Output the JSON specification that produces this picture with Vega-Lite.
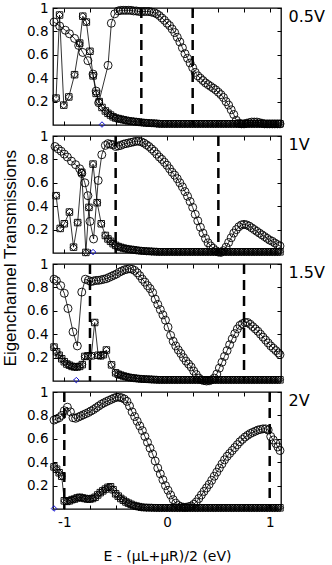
{
"$schema":"https://vega.github.io/schema/vega-lite/v6.json",
"padding":{"left":1,"top":0,"right":2,"bottom":2},
"background":"white",
"title":{"text":"Eigenchannel Transmissions","orient":"left","anchor":"middle","fontSize":17,"font":"Liberation Sans","fontWeight":"normal","color":"black","offset":6,"dx":24},
"spacing":11,
"bounds":"flush",
"config":{"view":{"stroke":"black","strokeWidth":1.3},
"axis":{"domain":false,"grid":false,"tickColor":"black","tickWidth":1,"tickSize":-4,"labelColor":"black","labelFont":"DejaVu Sans","labelFontSize":13.5,"titleFont":"DejaVu Sans","titleFontWeight":"normal","titleColor":"black","titleFontSize":14,"minExtent":0}},
"datasets":{
"bias":[{"p":1,"x":-0.25},{"p":1,"x":0.25},{"p":2,"x":-0.5},{"p":2,"x":0.5},{"p":3,"x":-0.75},{"p":3,"x":0.75},{"p":4,"x":-1},{"p":4,"x":1}],
"blue":[{"p":1,"x":-0.633,"y":0.004},{"p":2,"x":-0.72,"y":0.008},{"p":3,"x":-0.883,"y":0.008},{"p":4,"x":-1.1,"y":0.004}],
"p1a":[{"x":-1.1,"y":0.88},{"x":-1.045,"y":0.846},{"x":-0.99,"y":0.81},{"x":-0.95,"y":0.78},{"x":-0.9,"y":0.74},{"x":-0.86,"y":0.68},{"x":-0.82,"y":0.62},{"x":-0.77,"y":0.55},{"x":-0.72,"y":0.435},{"x":-0.69,"y":0.29},{"x":-0.665,"y":0.19},{"x":-0.574,"y":0.51},{"x":-0.542,"y":0.87},{"x":-0.509,"y":0.95},{"x":-0.475,"y":0.975},{"x":-0.45,"y":0.98},{"x":-0.425,"y":0.98},{"x":-0.4,"y":0.98},{"x":-0.375,"y":0.98},{"x":-0.35,"y":0.98},{"x":-0.325,"y":0.975},{"x":-0.3,"y":0.975},{"x":-0.275,"y":0.97},{"x":-0.25,"y":0.97},{"x":-0.225,"y":0.97},{"x":-0.2,"y":0.97},{"x":-0.175,"y":0.97},{"x":-0.15,"y":0.965},{"x":-0.125,"y":0.96},{"x":-0.1,"y":0.95},{"x":-0.075,"y":0.935},{"x":-0.05,"y":0.915},{"x":-0.025,"y":0.895},{"x":0,"y":0.87},{"x":0.025,"y":0.85},{"x":0.05,"y":0.82},{"x":0.075,"y":0.79},{"x":0.1,"y":0.75},{"x":0.125,"y":0.71},{"x":0.15,"y":0.66},{"x":0.175,"y":0.61},{"x":0.2,"y":0.57},{"x":0.225,"y":0.53},{"x":0.25,"y":0.49},{"x":0.275,"y":0.45},{"x":0.3,"y":0.42},{"x":0.325,"y":0.4},{"x":0.35,"y":0.38},{"x":0.375,"y":0.36},{"x":0.4,"y":0.345},{"x":0.425,"y":0.33},{"x":0.45,"y":0.315},{"x":0.475,"y":0.3},{"x":0.5,"y":0.28},{"x":0.525,"y":0.26},{"x":0.55,"y":0.235},{"x":0.575,"y":0.2},{"x":0.6,"y":0.17},{"x":0.625,"y":0.13},{"x":0.65,"y":0.09},{"x":0.675,"y":0.04},{"x":0.7,"y":0.015},{"x":0.725,"y":0.01},{"x":0.75,"y":0.01},{"x":0.775,"y":0.015},{"x":0.8,"y":0.02},{"x":0.825,"y":0.025},{"x":0.85,"y":0.025},{"x":0.875,"y":0.025},{"x":0.9,"y":0.02},{"x":0.925,"y":0.015},{"x":0.95,"y":0.01},{"x":0.975,"y":0.01},{"x":1,"y":0.01},{"x":1.025,"y":0.01},{"x":1.05,"y":0.01},{"x":1.075,"y":0.01},{"x":1.1,"y":0.01}],
"p1b":[{"x":-1.08,"y":0.23},{"x":-1.046,"y":0.94},{"x":-1.005,"y":0.17},{"x":-0.956,"y":0.24},{"x":-0.9,"y":0.43},{"x":-0.85,"y":0.7},{"x":-0.82,"y":0.93},{"x":-0.785,"y":0.88},{"x":-0.75,"y":0.63},{"x":-0.72,"y":0.42},{"x":-0.69,"y":0.27},{"x":-0.66,"y":0.2},{"x":-0.633,"y":0.15},{"x":-0.6,"y":0.12},{"x":-0.575,"y":0.1},{"x":-0.55,"y":0.085},{"x":-0.525,"y":0.07},{"x":-0.5,"y":0.06},{"x":-0.475,"y":0.055},{"x":-0.45,"y":0.05},{"x":-0.425,"y":0.045},{"x":-0.4,"y":0.04},{"x":-0.375,"y":0.035},{"x":-0.35,"y":0.033},{"x":-0.325,"y":0.03},{"x":-0.3,"y":0.028},{"x":-0.275,"y":0.025},{"x":-0.25,"y":0.022},{"x":-0.225,"y":0.02},{"x":-0.2,"y":0.018},{"x":-0.175,"y":0.016},{"x":-0.15,"y":0.015},{"x":-0.125,"y":0.014},{"x":-0.1,"y":0.013},{"x":-0.075,"y":0.01},{"x":-0.05,"y":0.01},{"x":-0.025,"y":0.01},{"x":0,"y":0.01},{"x":0.025,"y":0.01},{"x":0.05,"y":0.01},{"x":0.075,"y":0.01},{"x":0.1,"y":0.01},{"x":0.125,"y":0.01},{"x":0.15,"y":0.01},{"x":0.175,"y":0.01},{"x":0.2,"y":0.01},{"x":0.225,"y":0.01},{"x":0.25,"y":0.01},{"x":0.275,"y":0.01},{"x":0.3,"y":0.01},{"x":0.325,"y":0.01},{"x":0.35,"y":0.01},{"x":0.375,"y":0.01},{"x":0.4,"y":0.01},{"x":0.425,"y":0.01},{"x":0.45,"y":0.01},{"x":0.475,"y":0.01},{"x":0.5,"y":0.01},{"x":0.525,"y":0.01},{"x":0.55,"y":0.01},{"x":0.575,"y":0.01},{"x":0.6,"y":0.01},{"x":0.625,"y":0.01},{"x":0.65,"y":0.01},{"x":0.675,"y":0.01},{"x":0.7,"y":0.01},{"x":0.725,"y":0.01},{"x":0.75,"y":0.01},{"x":0.775,"y":0.01},{"x":0.8,"y":0.01},{"x":0.825,"y":0.01},{"x":0.85,"y":0.01},{"x":0.875,"y":0.01},{"x":0.9,"y":0.01},{"x":0.925,"y":0.01},{"x":0.95,"y":0.01},{"x":0.975,"y":0.01},{"x":1,"y":0.01},{"x":1.025,"y":0.01},{"x":1.05,"y":0.01},{"x":1.075,"y":0.01},{"x":1.1,"y":0.01}],
"p2a":[{"x":-1.09,"y":0.91},{"x":-1.06,"y":0.89},{"x":-1.03,"y":0.87},{"x":-1,"y":0.845},{"x":-0.97,"y":0.82},{"x":-0.93,"y":0.785},{"x":-0.89,"y":0.755},{"x":-0.85,"y":0.72},{"x":-0.83,"y":0.68},{"x":-0.8,"y":0.6},{"x":-0.77,"y":0.49},{"x":-0.75,"y":0.27},{"x":-0.715,"y":0.12},{"x":-0.67,"y":0.62},{"x":-0.635,"y":0.84},{"x":-0.6,"y":0.92},{"x":-0.575,"y":0.935},{"x":-0.55,"y":0.93},{"x":-0.525,"y":0.925},{"x":-0.5,"y":0.91},{"x":-0.475,"y":0.915},{"x":-0.45,"y":0.92},{"x":-0.425,"y":0.93},{"x":-0.4,"y":0.935},{"x":-0.375,"y":0.94},{"x":-0.35,"y":0.945},{"x":-0.325,"y":0.95},{"x":-0.3,"y":0.955},{"x":-0.275,"y":0.955},{"x":-0.25,"y":0.95},{"x":-0.225,"y":0.94},{"x":-0.2,"y":0.925},{"x":-0.175,"y":0.91},{"x":-0.15,"y":0.89},{"x":-0.125,"y":0.87},{"x":-0.1,"y":0.845},{"x":-0.075,"y":0.82},{"x":-0.05,"y":0.8},{"x":-0.025,"y":0.775},{"x":0,"y":0.75},{"x":0.025,"y":0.72},{"x":0.05,"y":0.69},{"x":0.075,"y":0.665},{"x":0.1,"y":0.635},{"x":0.125,"y":0.6},{"x":0.15,"y":0.565},{"x":0.175,"y":0.525},{"x":0.2,"y":0.485},{"x":0.225,"y":0.44},{"x":0.25,"y":0.39},{"x":0.275,"y":0.33},{"x":0.3,"y":0.275},{"x":0.325,"y":0.22},{"x":0.35,"y":0.17},{"x":0.375,"y":0.125},{"x":0.4,"y":0.087},{"x":0.425,"y":0.06},{"x":0.45,"y":0.04},{"x":0.475,"y":0.02},{"x":0.5,"y":0.008},{"x":0.525,"y":0.005},{"x":0.55,"y":0.02},{"x":0.575,"y":0.05},{"x":0.6,"y":0.09},{"x":0.625,"y":0.13},{"x":0.65,"y":0.17},{"x":0.675,"y":0.2},{"x":0.7,"y":0.225},{"x":0.725,"y":0.24},{"x":0.75,"y":0.245},{"x":0.775,"y":0.24},{"x":0.8,"y":0.23},{"x":0.825,"y":0.215},{"x":0.85,"y":0.2},{"x":0.875,"y":0.185},{"x":0.9,"y":0.17},{"x":0.925,"y":0.155},{"x":0.95,"y":0.14},{"x":0.975,"y":0.125},{"x":1,"y":0.11},{"x":1.025,"y":0.1},{"x":1.05,"y":0.085},{"x":1.075,"y":0.072},{"x":1.1,"y":0.06}],
"p2b":[{"x":-1.08,"y":0.49},{"x":-1.04,"y":0.21},{"x":-1,"y":0.25},{"x":-0.95,"y":0.35},{"x":-0.91,"y":0.05},{"x":-0.87,"y":0.26},{"x":-0.83,"y":0.69},{"x":-0.79,"y":0.005},{"x":-0.76,"y":0.39},{"x":-0.72,"y":0.76},{"x":-0.68,"y":0.43},{"x":-0.64,"y":0.25},{"x":-0.6,"y":0.15},{"x":-0.575,"y":0.12},{"x":-0.55,"y":0.1},{"x":-0.525,"y":0.08},{"x":-0.5,"y":0.065},{"x":-0.475,"y":0.055},{"x":-0.45,"y":0.048},{"x":-0.425,"y":0.042},{"x":-0.4,"y":0.037},{"x":-0.375,"y":0.033},{"x":-0.35,"y":0.03},{"x":-0.325,"y":0.027},{"x":-0.3,"y":0.024},{"x":-0.275,"y":0.021},{"x":-0.25,"y":0.019},{"x":-0.225,"y":0.017},{"x":-0.2,"y":0.015},{"x":-0.175,"y":0.014},{"x":-0.15,"y":0.013},{"x":-0.125,"y":0.012},{"x":-0.1,"y":0.011},{"x":-0.075,"y":0.01},{"x":-0.05,"y":0.01},{"x":-0.025,"y":0.01},{"x":0,"y":0.01},{"x":0.025,"y":0.01},{"x":0.05,"y":0.01},{"x":0.075,"y":0.01},{"x":0.1,"y":0.01},{"x":0.125,"y":0.01},{"x":0.15,"y":0.01},{"x":0.175,"y":0.01},{"x":0.2,"y":0.01},{"x":0.225,"y":0.01},{"x":0.25,"y":0.01},{"x":0.275,"y":0.01},{"x":0.3,"y":0.01},{"x":0.325,"y":0.01},{"x":0.35,"y":0.01},{"x":0.375,"y":0.01},{"x":0.4,"y":0.01},{"x":0.425,"y":0.01},{"x":0.45,"y":0.01},{"x":0.475,"y":0.01},{"x":0.5,"y":0.01},{"x":0.525,"y":0.01},{"x":0.55,"y":0.01},{"x":0.575,"y":0.01},{"x":0.6,"y":0.01},{"x":0.625,"y":0.01},{"x":0.65,"y":0.01},{"x":0.675,"y":0.01},{"x":0.7,"y":0.01},{"x":0.725,"y":0.01},{"x":0.75,"y":0.01},{"x":0.775,"y":0.01},{"x":0.8,"y":0.01},{"x":0.825,"y":0.01},{"x":0.85,"y":0.01},{"x":0.875,"y":0.01},{"x":0.9,"y":0.01},{"x":0.925,"y":0.01},{"x":0.95,"y":0.01},{"x":0.975,"y":0.01},{"x":1,"y":0.01},{"x":1.025,"y":0.01},{"x":1.05,"y":0.01},{"x":1.075,"y":0.01},{"x":1.1,"y":0.01}],
"p3a":[{"x":-1.1,"y":0.87},{"x":-1.077,"y":0.857},{"x":-1.035,"y":0.815},{"x":-1,"y":0.75},{"x":-0.964,"y":0.62},{"x":-0.915,"y":0.42},{"x":-0.873,"y":0.3},{"x":-0.83,"y":0.76},{"x":-0.795,"y":0.87},{"x":-0.765,"y":0.86},{"x":-0.74,"y":0.85},{"x":-0.715,"y":0.855},{"x":-0.69,"y":0.86},{"x":-0.665,"y":0.86},{"x":-0.64,"y":0.865},{"x":-0.615,"y":0.87},{"x":-0.59,"y":0.875},{"x":-0.565,"y":0.885},{"x":-0.54,"y":0.895},{"x":-0.515,"y":0.905},{"x":-0.49,"y":0.915},{"x":-0.465,"y":0.93},{"x":-0.44,"y":0.94},{"x":-0.415,"y":0.95},{"x":-0.39,"y":0.955},{"x":-0.365,"y":0.96},{"x":-0.34,"y":0.955},{"x":-0.315,"y":0.945},{"x":-0.29,"y":0.925},{"x":-0.265,"y":0.9},{"x":-0.24,"y":0.87},{"x":-0.215,"y":0.845},{"x":-0.19,"y":0.815},{"x":-0.165,"y":0.79},{"x":-0.14,"y":0.755},{"x":-0.115,"y":0.7},{"x":-0.09,"y":0.655},{"x":-0.065,"y":0.61},{"x":-0.04,"y":0.565},{"x":-0.015,"y":0.52},{"x":0.01,"y":0.46},{"x":0.035,"y":0.39},{"x":0.06,"y":0.34},{"x":0.085,"y":0.3},{"x":0.11,"y":0.265},{"x":0.135,"y":0.235},{"x":0.16,"y":0.2},{"x":0.185,"y":0.17},{"x":0.21,"y":0.145},{"x":0.235,"y":0.12},{"x":0.26,"y":0.085},{"x":0.285,"y":0.055},{"x":0.31,"y":0.025},{"x":0.335,"y":0.01},{"x":0.36,"y":0.003},{"x":0.385,"y":0},{"x":0.41,"y":0.002},{"x":0.435,"y":0.01},{"x":0.46,"y":0.025},{"x":0.485,"y":0.06},{"x":0.51,"y":0.11},{"x":0.535,"y":0.16},{"x":0.56,"y":0.21},{"x":0.585,"y":0.26},{"x":0.61,"y":0.31},{"x":0.635,"y":0.36},{"x":0.66,"y":0.405},{"x":0.685,"y":0.445},{"x":0.71,"y":0.475},{"x":0.735,"y":0.49},{"x":0.76,"y":0.5},{"x":0.785,"y":0.5},{"x":0.81,"y":0.485},{"x":0.835,"y":0.465},{"x":0.86,"y":0.445},{"x":0.885,"y":0.425},{"x":0.91,"y":0.4},{"x":0.935,"y":0.375},{"x":0.96,"y":0.35},{"x":0.985,"y":0.325},{"x":1.01,"y":0.3},{"x":1.035,"y":0.28},{"x":1.06,"y":0.26},{"x":1.085,"y":0.24},{"x":1.1,"y":0.225}],
"p3b":[{"x":-1.1,"y":0.29},{"x":-1.075,"y":0.25},{"x":-1.05,"y":0.22},{"x":-1.025,"y":0.19},{"x":-1,"y":0.165},{"x":-0.975,"y":0.145},{"x":-0.95,"y":0.135},{"x":-0.925,"y":0.125},{"x":-0.9,"y":0.12},{"x":-0.875,"y":0.12},{"x":-0.85,"y":0.125},{"x":-0.825,"y":0.14},{"x":-0.8,"y":0.21},{"x":-0.77,"y":0.215},{"x":-0.737,"y":0.215},{"x":-0.704,"y":0.5},{"x":-0.67,"y":0.22},{"x":-0.645,"y":0.215},{"x":-0.62,"y":0.225},{"x":-0.59,"y":0.265},{"x":-0.54,"y":0.138},{"x":-0.5,"y":0.07},{"x":-0.475,"y":0.058},{"x":-0.45,"y":0.05},{"x":-0.425,"y":0.043},{"x":-0.4,"y":0.037},{"x":-0.375,"y":0.032},{"x":-0.35,"y":0.028},{"x":-0.325,"y":0.025},{"x":-0.3,"y":0.022},{"x":-0.275,"y":0.02},{"x":-0.25,"y":0.018},{"x":-0.225,"y":0.016},{"x":-0.2,"y":0.015},{"x":-0.175,"y":0.014},{"x":-0.15,"y":0.013},{"x":-0.125,"y":0.012},{"x":-0.1,"y":0.011},{"x":-0.075,"y":0.01},{"x":-0.05,"y":0.01},{"x":-0.025,"y":0.01},{"x":0,"y":0.01},{"x":0.025,"y":0.01},{"x":0.05,"y":0.01},{"x":0.075,"y":0.01},{"x":0.1,"y":0.01},{"x":0.125,"y":0.01},{"x":0.15,"y":0.01},{"x":0.175,"y":0.01},{"x":0.2,"y":0.01},{"x":0.225,"y":0.01},{"x":0.25,"y":0.01},{"x":0.275,"y":0.01},{"x":0.3,"y":0.01},{"x":0.325,"y":0.01},{"x":0.35,"y":0.01},{"x":0.375,"y":0.01},{"x":0.4,"y":0.01},{"x":0.425,"y":0.01},{"x":0.45,"y":0.01},{"x":0.475,"y":0.01},{"x":0.5,"y":0.01},{"x":0.525,"y":0.01},{"x":0.55,"y":0.01},{"x":0.575,"y":0.01},{"x":0.6,"y":0.01},{"x":0.625,"y":0.01},{"x":0.65,"y":0.01},{"x":0.675,"y":0.01},{"x":0.7,"y":0.01},{"x":0.725,"y":0.01},{"x":0.75,"y":0.01},{"x":0.775,"y":0.01},{"x":0.8,"y":0.01},{"x":0.825,"y":0.01},{"x":0.85,"y":0.01},{"x":0.875,"y":0.01},{"x":0.9,"y":0.01},{"x":0.925,"y":0.01},{"x":0.95,"y":0.01},{"x":0.975,"y":0.01},{"x":1,"y":0.01},{"x":1.025,"y":0.01},{"x":1.05,"y":0.01},{"x":1.075,"y":0.01},{"x":1.1,"y":0.01}],
"p4a":[{"x":-1.1,"y":0.76},{"x":-1.075,"y":0.77},{"x":-1.05,"y":0.78},{"x":-1.025,"y":0.8},{"x":-1,"y":0.84},{"x":-0.97,"y":0.87},{"x":-0.94,"y":0.83},{"x":-0.915,"y":0.78},{"x":-0.89,"y":0.775},{"x":-0.865,"y":0.785},{"x":-0.84,"y":0.795},{"x":-0.815,"y":0.805},{"x":-0.79,"y":0.815},{"x":-0.765,"y":0.825},{"x":-0.74,"y":0.838},{"x":-0.715,"y":0.85},{"x":-0.69,"y":0.865},{"x":-0.665,"y":0.88},{"x":-0.64,"y":0.895},{"x":-0.615,"y":0.907},{"x":-0.59,"y":0.918},{"x":-0.565,"y":0.928},{"x":-0.54,"y":0.938},{"x":-0.515,"y":0.948},{"x":-0.49,"y":0.955},{"x":-0.465,"y":0.955},{"x":-0.44,"y":0.95},{"x":-0.415,"y":0.94},{"x":-0.39,"y":0.92},{"x":-0.365,"y":0.88},{"x":-0.34,"y":0.83},{"x":-0.315,"y":0.79},{"x":-0.29,"y":0.75},{"x":-0.265,"y":0.71},{"x":-0.24,"y":0.67},{"x":-0.215,"y":0.62},{"x":-0.19,"y":0.57},{"x":-0.165,"y":0.52},{"x":-0.14,"y":0.47},{"x":-0.115,"y":0.41},{"x":-0.09,"y":0.35},{"x":-0.065,"y":0.3},{"x":-0.04,"y":0.25},{"x":-0.015,"y":0.2},{"x":0.01,"y":0.16},{"x":0.035,"y":0.12},{"x":0.06,"y":0.08},{"x":0.085,"y":0.05},{"x":0.11,"y":0.03},{"x":0.135,"y":0.02},{"x":0.16,"y":0.015},{"x":0.185,"y":0.015},{"x":0.21,"y":0.02},{"x":0.235,"y":0.025},{"x":0.26,"y":0.04},{"x":0.285,"y":0.06},{"x":0.31,"y":0.09},{"x":0.335,"y":0.12},{"x":0.36,"y":0.15},{"x":0.385,"y":0.18},{"x":0.41,"y":0.21},{"x":0.435,"y":0.245},{"x":0.46,"y":0.28},{"x":0.485,"y":0.315},{"x":0.51,"y":0.35},{"x":0.535,"y":0.385},{"x":0.56,"y":0.42},{"x":0.585,"y":0.45},{"x":0.61,"y":0.475},{"x":0.635,"y":0.5},{"x":0.66,"y":0.525},{"x":0.685,"y":0.55},{"x":0.71,"y":0.575},{"x":0.735,"y":0.595},{"x":0.76,"y":0.615},{"x":0.785,"y":0.63},{"x":0.81,"y":0.645},{"x":0.835,"y":0.655},{"x":0.86,"y":0.665},{"x":0.885,"y":0.675},{"x":0.91,"y":0.68},{"x":0.935,"y":0.685},{"x":0.96,"y":0.685},{"x":0.985,"y":0.675},{"x":1.01,"y":0.62},{"x":1.035,"y":0.59},{"x":1.06,"y":0.56},{"x":1.08,"y":0.53},{"x":1.1,"y":0.5}],
"p4b":[{"x":-1.1,"y":0.36},{"x":-1.075,"y":0.34},{"x":-1.05,"y":0.31},{"x":-1.025,"y":0.28},{"x":-1,"y":0.07},{"x":-0.975,"y":0.065},{"x":-0.95,"y":0.07},{"x":-0.925,"y":0.08},{"x":-0.9,"y":0.085},{"x":-0.875,"y":0.095},{"x":-0.85,"y":0.1},{"x":-0.825,"y":0.095},{"x":-0.8,"y":0.09},{"x":-0.775,"y":0.085},{"x":-0.75,"y":0.085},{"x":-0.725,"y":0.09},{"x":-0.7,"y":0.1},{"x":-0.675,"y":0.12},{"x":-0.65,"y":0.14},{"x":-0.625,"y":0.155},{"x":-0.6,"y":0.17},{"x":-0.575,"y":0.185},{"x":-0.55,"y":0.19},{"x":-0.525,"y":0.165},{"x":-0.5,"y":0.13},{"x":-0.475,"y":0.11},{"x":-0.45,"y":0.09},{"x":-0.425,"y":0.075},{"x":-0.4,"y":0.06},{"x":-0.375,"y":0.05},{"x":-0.35,"y":0.04},{"x":-0.325,"y":0.03},{"x":-0.3,"y":0.025},{"x":-0.275,"y":0.02},{"x":-0.25,"y":0.015},{"x":-0.225,"y":0.013},{"x":-0.2,"y":0.012},{"x":-0.175,"y":0.012},{"x":-0.15,"y":0.011},{"x":-0.125,"y":0.011},{"x":-0.1,"y":0.01},{"x":-0.075,"y":0.01},{"x":-0.05,"y":0.01},{"x":-0.025,"y":0.01},{"x":0,"y":0.01},{"x":0.025,"y":0.01},{"x":0.05,"y":0.01},{"x":0.075,"y":0.01},{"x":0.1,"y":0.01},{"x":0.125,"y":0.01},{"x":0.15,"y":0.01},{"x":0.175,"y":0.01},{"x":0.2,"y":0.01},{"x":0.225,"y":0.01},{"x":0.25,"y":0.01},{"x":0.275,"y":0.01},{"x":0.3,"y":0.01},{"x":0.325,"y":0.01},{"x":0.35,"y":0.01},{"x":0.375,"y":0.01},{"x":0.4,"y":0.01},{"x":0.425,"y":0.01},{"x":0.45,"y":0.01},{"x":0.475,"y":0.01},{"x":0.5,"y":0.01},{"x":0.525,"y":0.01},{"x":0.55,"y":0.01},{"x":0.575,"y":0.01},{"x":0.6,"y":0.01},{"x":0.625,"y":0.01},{"x":0.65,"y":0.01},{"x":0.675,"y":0.01},{"x":0.7,"y":0.01},{"x":0.725,"y":0.01},{"x":0.75,"y":0.01},{"x":0.775,"y":0.01},{"x":0.8,"y":0.01},{"x":0.825,"y":0.01},{"x":0.85,"y":0.01},{"x":0.875,"y":0.01},{"x":0.9,"y":0.01},{"x":0.925,"y":0.01},{"x":0.95,"y":0.01},{"x":0.975,"y":0.01},{"x":1,"y":0.01},{"x":1.025,"y":0.01},{"x":1.05,"y":0.01},{"x":1.075,"y":0.01},{"x":1.1,"y":0.01}]
},
"vconcat":[
{"width":228,"height":117,
"resolve":{"axis":{"x":"independent","y":"independent"}},
"layer":[
{"data":{"name":"bias"},"transform":[{"filter":"datum.p==1"}],"mark":{"type":"rule","strokeDash":[10,6],"strokeWidth":2.5,"color":"black"},"encoding":{"x":{"field":"x","type":"quantitative","scale":{"domain":[-1.11,1.11],"nice":false,"zero":false},"axis":{"orient":"top","values":[-1,-0.75,-0.5,-0.25,0,0.25,0.5,0.75,1],"labels":false,"title":null,"minExtent":0,"maxExtent":0}}}},
{"data":{"name":"p1a"},"mark":{"type":"line","color":"black","strokeWidth":0.8},"encoding":{"x":{"field":"x","type":"quantitative","scale":{"domain":[-1.11,1.11],"nice":false,"zero":false},"axis":{"orient":"bottom","values":[-1,-0.75,-0.5,-0.25,0,0.25,0.5,0.75,1],"labels":false,"title":null,"minExtent":0,"maxExtent":0}},"y":{"field":"y","type":"quantitative","scale":{"domain":[0,1],"nice":false},"axis":{"orient":"left","values":[0.2,0.4,0.6,0.8,1],"format":"~g","labelPadding":9,"title":null}}}},
{"data":{"name":"p1a"},"mark":{"type":"point","shape":"circle","filled":false,"color":"black","size":64,"strokeWidth":0.9,"opacity":1},"encoding":{"x":{"field":"x","type":"quantitative","axis":null},"y":{"field":"y","type":"quantitative","axis":{"orient":"right","values":[0.2,0.4,0.6,0.8,1],"labels":false,"title":"0.5V","titleAngle":0,"titleAlign":"left","titleBaseline":"top","titleAnchor":"end","titlePadding":7,"titleFontSize":16,"minExtent":0,"maxExtent":0}}}},
{"data":{"name":"p1b"},"mark":{"type":"line","color":"black","strokeWidth":0.8},"encoding":{"x":{"field":"x","type":"quantitative","axis":null},"y":{"field":"y","type":"quantitative","axis":null}}},
{"data":{"name":"p1b"},"mark":{"type":"point","shape":"square","filled":false,"color":"black","size":42,"strokeWidth":0.9,"opacity":1},"encoding":{"x":{"field":"x","type":"quantitative","axis":null},"y":{"field":"y","type":"quantitative","axis":null}}},
{"data":{"name":"p1b"},"mark":{"type":"point","shape":"diamond","filled":false,"color":"black","size":50,"strokeWidth":0.9,"opacity":1},"encoding":{"x":{"field":"x","type":"quantitative","axis":null},"y":{"field":"y","type":"quantitative","axis":null}}},
{"data":{"name":"blue"},"transform":[{"filter":"datum.p==1"}],"mark":{"type":"point","shape":"diamond","filled":false,"color":"#1010d0","size":30,"strokeWidth":1,"opacity":1},"encoding":{"x":{"field":"x","type":"quantitative","axis":null},"y":{"field":"y","type":"quantitative","axis":null}}}
]},
{"width":228,"height":117,
"resolve":{"axis":{"x":"independent","y":"independent"}},
"layer":[
{"data":{"name":"bias"},"transform":[{"filter":"datum.p==2"}],"mark":{"type":"rule","strokeDash":[10,6],"strokeWidth":2.5,"color":"black"},"encoding":{"x":{"field":"x","type":"quantitative","scale":{"domain":[-1.11,1.11],"nice":false,"zero":false},"axis":{"orient":"top","values":[-1,-0.75,-0.5,-0.25,0,0.25,0.5,0.75,1],"labels":false,"title":null,"minExtent":0,"maxExtent":0}}}},
{"data":{"name":"p2a"},"mark":{"type":"line","color":"black","strokeWidth":0.8},"encoding":{"x":{"field":"x","type":"quantitative","scale":{"domain":[-1.11,1.11],"nice":false,"zero":false},"axis":{"orient":"bottom","values":[-1,-0.75,-0.5,-0.25,0,0.25,0.5,0.75,1],"labels":false,"title":null,"minExtent":0,"maxExtent":0}},"y":{"field":"y","type":"quantitative","scale":{"domain":[0,1],"nice":false},"axis":{"orient":"left","values":[0.2,0.4,0.6,0.8,1],"format":"~g","labelPadding":9,"title":null}}}},
{"data":{"name":"p2a"},"mark":{"type":"point","shape":"circle","filled":false,"color":"black","size":64,"strokeWidth":0.9,"opacity":1},"encoding":{"x":{"field":"x","type":"quantitative","axis":null},"y":{"field":"y","type":"quantitative","axis":{"orient":"right","values":[0.2,0.4,0.6,0.8,1],"labels":false,"title":"1V","titleAngle":0,"titleAlign":"left","titleBaseline":"top","titleAnchor":"end","titlePadding":7,"titleFontSize":16,"minExtent":0,"maxExtent":0}}}},
{"data":{"name":"p2b"},"mark":{"type":"line","color":"black","strokeWidth":0.8},"encoding":{"x":{"field":"x","type":"quantitative","axis":null},"y":{"field":"y","type":"quantitative","axis":null}}},
{"data":{"name":"p2b"},"mark":{"type":"point","shape":"square","filled":false,"color":"black","size":42,"strokeWidth":0.9,"opacity":1},"encoding":{"x":{"field":"x","type":"quantitative","axis":null},"y":{"field":"y","type":"quantitative","axis":null}}},
{"data":{"name":"p2b"},"mark":{"type":"point","shape":"diamond","filled":false,"color":"black","size":50,"strokeWidth":0.9,"opacity":1},"encoding":{"x":{"field":"x","type":"quantitative","axis":null},"y":{"field":"y","type":"quantitative","axis":null}}},
{"data":{"name":"blue"},"transform":[{"filter":"datum.p==2"}],"mark":{"type":"point","shape":"diamond","filled":false,"color":"#1010d0","size":30,"strokeWidth":1,"opacity":1},"encoding":{"x":{"field":"x","type":"quantitative","axis":null},"y":{"field":"y","type":"quantitative","axis":null}}}
]},
{"width":228,"height":117,
"resolve":{"axis":{"x":"independent","y":"independent"}},
"layer":[
{"data":{"name":"bias"},"transform":[{"filter":"datum.p==3"}],"mark":{"type":"rule","strokeDash":[10,6],"strokeWidth":2.5,"color":"black"},"encoding":{"x":{"field":"x","type":"quantitative","scale":{"domain":[-1.11,1.11],"nice":false,"zero":false},"axis":{"orient":"top","values":[-1,-0.75,-0.5,-0.25,0,0.25,0.5,0.75,1],"labels":false,"title":null,"minExtent":0,"maxExtent":0}}}},
{"data":{"name":"p3a"},"mark":{"type":"line","color":"black","strokeWidth":0.8},"encoding":{"x":{"field":"x","type":"quantitative","scale":{"domain":[-1.11,1.11],"nice":false,"zero":false},"axis":{"orient":"bottom","values":[-1,-0.75,-0.5,-0.25,0,0.25,0.5,0.75,1],"labels":false,"title":null,"minExtent":0,"maxExtent":0}},"y":{"field":"y","type":"quantitative","scale":{"domain":[0,1],"nice":false},"axis":{"orient":"left","values":[0.2,0.4,0.6,0.8,1],"format":"~g","labelPadding":9,"title":null}}}},
{"data":{"name":"p3a"},"mark":{"type":"point","shape":"circle","filled":false,"color":"black","size":64,"strokeWidth":0.9,"opacity":1},"encoding":{"x":{"field":"x","type":"quantitative","axis":null},"y":{"field":"y","type":"quantitative","axis":{"orient":"right","values":[0.2,0.4,0.6,0.8,1],"labels":false,"title":"1.5V","titleAngle":0,"titleAlign":"left","titleBaseline":"top","titleAnchor":"end","titlePadding":7,"titleFontSize":16,"minExtent":0,"maxExtent":0}}}},
{"data":{"name":"p3b"},"mark":{"type":"line","color":"black","strokeWidth":0.8},"encoding":{"x":{"field":"x","type":"quantitative","axis":null},"y":{"field":"y","type":"quantitative","axis":null}}},
{"data":{"name":"p3b"},"mark":{"type":"point","shape":"square","filled":false,"color":"black","size":42,"strokeWidth":0.9,"opacity":1},"encoding":{"x":{"field":"x","type":"quantitative","axis":null},"y":{"field":"y","type":"quantitative","axis":null}}},
{"data":{"name":"p3b"},"mark":{"type":"point","shape":"diamond","filled":false,"color":"black","size":50,"strokeWidth":0.9,"opacity":1},"encoding":{"x":{"field":"x","type":"quantitative","axis":null},"y":{"field":"y","type":"quantitative","axis":null}}},
{"data":{"name":"blue"},"transform":[{"filter":"datum.p==3"}],"mark":{"type":"point","shape":"diamond","filled":false,"color":"#1010d0","size":30,"strokeWidth":1,"opacity":1},"encoding":{"x":{"field":"x","type":"quantitative","axis":null},"y":{"field":"y","type":"quantitative","axis":null}}}
]},
{"width":228,"height":117,
"resolve":{"axis":{"x":"independent","y":"independent"}},
"layer":[
{"data":{"name":"bias"},"transform":[{"filter":"datum.p==4"}],"mark":{"type":"rule","strokeDash":[10,6],"strokeWidth":2.5,"color":"black"},"encoding":{"x":{"field":"x","type":"quantitative","scale":{"domain":[-1.11,1.11],"nice":false,"zero":false},"axis":{"orient":"top","values":[-1,-0.75,-0.5,-0.25,0,0.25,0.5,0.75,1],"labels":false,"title":null,"minExtent":0,"maxExtent":0}}}},
{"data":{"name":"p4a"},"mark":{"type":"line","color":"black","strokeWidth":0.8},"encoding":{"x":{"field":"x","type":"quantitative","scale":{"domain":[-1.11,1.11],"nice":false,"zero":false},"axis":{"orient":"bottom","values":[-1,-0.75,-0.5,-0.25,0,0.25,0.5,0.75,1],"labelExpr":"datum.value == -1 ? '-1' : datum.value == 0 ? '0' : datum.value == 1 ? '1' : ''","labelPadding":10,"title":"E - (μL+μR)/2  (eV)","titlePadding":21}},"y":{"field":"y","type":"quantitative","scale":{"domain":[0,1],"nice":false},"axis":{"orient":"left","values":[0.2,0.4,0.6,0.8,1],"format":"~g","labelPadding":9,"title":null}}}},
{"data":{"name":"p4a"},"mark":{"type":"point","shape":"circle","filled":false,"color":"black","size":64,"strokeWidth":0.9,"opacity":1},"encoding":{"x":{"field":"x","type":"quantitative","axis":null},"y":{"field":"y","type":"quantitative","axis":{"orient":"right","values":[0.2,0.4,0.6,0.8,1],"labels":false,"title":"2V","titleAngle":0,"titleAlign":"left","titleBaseline":"top","titleAnchor":"end","titlePadding":7,"titleFontSize":16,"minExtent":0,"maxExtent":0}}}},
{"data":{"name":"p4b"},"mark":{"type":"line","color":"black","strokeWidth":0.8},"encoding":{"x":{"field":"x","type":"quantitative","axis":null},"y":{"field":"y","type":"quantitative","axis":null}}},
{"data":{"name":"p4b"},"mark":{"type":"point","shape":"square","filled":false,"color":"black","size":42,"strokeWidth":0.9,"opacity":1},"encoding":{"x":{"field":"x","type":"quantitative","axis":null},"y":{"field":"y","type":"quantitative","axis":null}}},
{"data":{"name":"p4b"},"mark":{"type":"point","shape":"diamond","filled":false,"color":"black","size":50,"strokeWidth":0.9,"opacity":1},"encoding":{"x":{"field":"x","type":"quantitative","axis":null},"y":{"field":"y","type":"quantitative","axis":null}}},
{"data":{"name":"blue"},"transform":[{"filter":"datum.p==4"}],"mark":{"type":"point","shape":"diamond","filled":false,"color":"#1010d0","size":30,"strokeWidth":1,"opacity":1},"encoding":{"x":{"field":"x","type":"quantitative","axis":null},"y":{"field":"y","type":"quantitative","axis":null}}}
]}
]
}
